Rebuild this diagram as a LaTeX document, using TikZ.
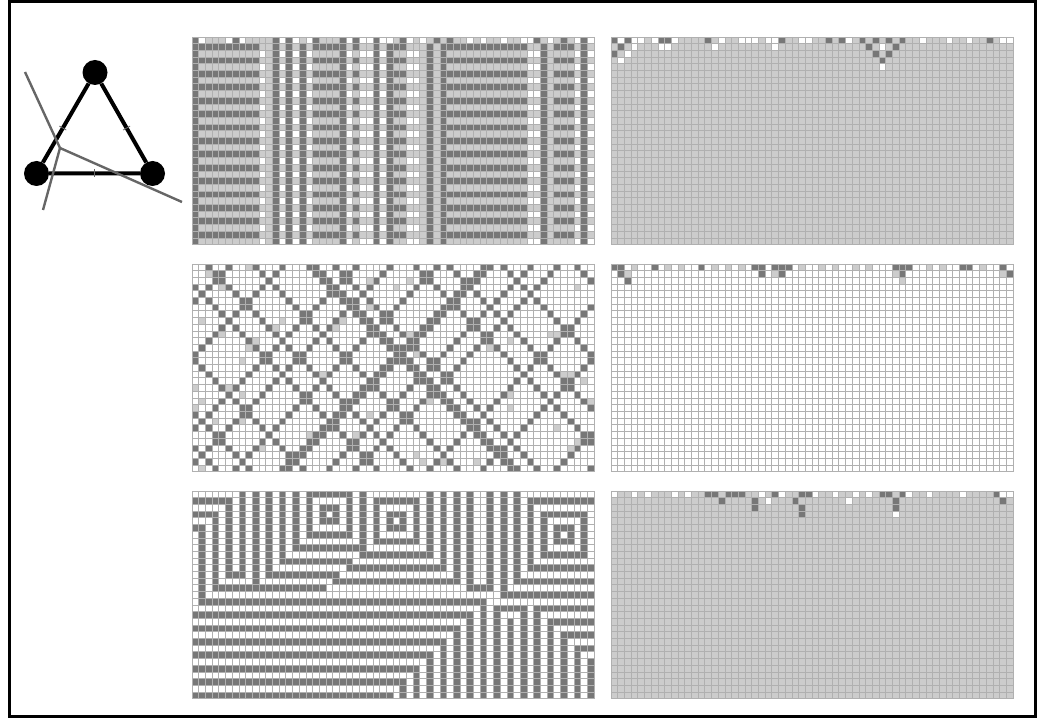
\documentclass[tikz,border=0pt]{standalone}
\usetikzlibrary{calc}
\definecolor{cadark}{HTML}{777777}
\definecolor{calight}{HTML}{CCCCCC}
\definecolor{cagrid}{HTML}{B0B0B0}
\definecolor{cutgray}{HTML}{666666}

\newcommand{\cellsz}{6.7}
\newcommand{\cacell}[3]{\fill[#3] (#1*\cellsz,#2*\cellsz) rectangle ++(\cellsz,\cellsz);}
\newcommand{\drawgrid}{%
  \foreach \k in {0,...,60} {\draw[gridline] (\k*\cellsz,0) -- (\k*\cellsz,31*\cellsz);}
  \foreach \k in {0,...,31} {\draw[gridline] (0,\k*\cellsz) -- (60*\cellsz,\k*\cellsz);}
}

\begin{document}
\begin{tikzpicture}[x=1pt, y=-1pt,
    gridline/.style={cagrid, line width=0.8pt},
    vertex/.style={circle, fill=black, inner sep=0pt, minimum size=25pt},
    triedge/.style={line width=4pt},
    cut/.style={cutgray, line width=2.4pt},
    tickmark/.style={cutgray, line width=0.8pt}
]
\useasboundingbox (0,0) rectangle (1042,719);

% Outer frame
\draw[line width=3pt] (9.5,1.5) rectangle (1035.5,716.5);

% ---------------------------------------------------------
% Triangle icon
% ---------------------------------------------------------
\node[vertex] (top)   at (95,72.5) {};
\node[vertex] (left)  at (36.5,173.5) {};
\node[vertex] (right) at (152.5,173.5) {};
\draw[triedge] (top) -- (left) -- (right) -- (top);

% tick marks on the edges
\foreach \p/\q/\s in {top/left/0.55, top/right/0.55, left/right/0.5} {
  \draw[tickmark] ($(\p)!\s!(\q)!4pt!90:(\q)$) -- ($(\p)!\s!(\q)!-4pt!90:(\q)$);
}

% cut lines
\coordinate (hub) at (60,148);
\coordinate (cutA) at (25,72);
\coordinate (cutB) at (182,202);
\coordinate (cutC) at (43,210);
\draw[cut] (cutA) -- (hub) -- (cutB);
\draw[cut] (hub) -- (cutC);

% ---------------------------------------------------------
% Panel 1 (top left): striped columns
% ---------------------------------------------------------
\begin{scope}[shift={(192,37)}]
\fill[calight] (0,0) rectangle (60*\cellsz,31*\cellsz);
\foreach \t [count=\c from 0] in {D,A,A,A,A,A,A,A,A,A,W,L,D,W,D,W,D,W,A,A,A,A,D,W,A,W,W,D,W,D,
                                 A,A,W,W,L,D,L,D,A,A,A,A,A,A,A,A,A,A,A,A,W,W,D,L,A,A,A,W,D,W} {
  \if A\t \foreach \r in {1,3,...,29} {\cacell{\c}{\r}{cadark}}\fi
  \if W\t \foreach \r in {2,4,...,30} {\cacell{\c}{\r}{white}}\fi
  \if D\t \fill[cadark] (\c*\cellsz,\cellsz) rectangle ++(\cellsz,30*\cellsz);\fi
}
% first row
\foreach \t [count=\c from 0] in {d,w,l,l,l,w,d,w,l,l,l,l,d,w,d,w,l,w,d,l,l,l,d,w,d,w,w,d,w,w,
                                 l,d,w,l,w,l,d,l,d,l,l,w,l,w,l,l,w,l,l,w,w,d,l,w,l,d,l,w,d,w} {
  \if d\t \cacell{\c}{0}{cadark}\fi
  \if w\t \cacell{\c}{0}{white}\fi
}
\drawgrid
\end{scope}

% ---------------------------------------------------------
% Panel 2 (top right): uniform light
% ---------------------------------------------------------
\begin{scope}[shift={(611,37)}]
\fill[calight] (0,0) rectangle (60*\cellsz,31*\cellsz);
\foreach \i/\j in {0/0,2/0,7/0,8/0,14/0,25/0,32/0,34/0,37/0,39/0,41/0,43/0,56/0,
                   1/1,38/1,42/1,0/2,39/2,41/2,40/3} {\cacell{\i}{\j}{cadark}}
\foreach \i/\j in {1/0,3/0,4/0,6/0,9/0,16/0,19/0,20/0,21/0,23/0,24/0,28/0,29/0,35/0,46/0,50/0,53/0,58/0,59/0,
                   3/1,7/1,8/1,15/1,24/1,40/1,2/2,1/3,40/4} {\cacell{\i}{\j}{white}}
\drawgrid
\end{scope}

% ---------------------------------------------------------
% Panel 3 (middle left): crossing diagonals
% ---------------------------------------------------------
\begin{scope}[shift={(192,264)}]
\fill[white] (0,0) rectangle (60*\cellsz,31*\cellsz);
\pgfmathsetseed{11}
\foreach \k in {1,...,80} {
  \pgfmathtruncatemacro{\ri}{random(0,59)}
  \pgfmathtruncatemacro{\rj}{random(0,30)}
  \cacell{\ri}{\rj}{calight}
}
\foreach \a in {2,9,17,18,21,33,38,46,57} {
  \foreach \r in {0,...,30} {
    \pgfmathtruncatemacro{\cc}{mod(\a+\r,60)}
    \cacell{\cc}{\r}{cadark}
  }
}
\foreach \b in {5,13,24,29,36,43,44,50,54} {
  \foreach \r in {0,...,30} {
    \pgfmathtruncatemacro{\cc}{mod(\b-\r+60,60)}
    \cacell{\cc}{\r}{cadark}
  }
}
\drawgrid
\end{scope}

% ---------------------------------------------------------
% Panel 4 (middle right): uniform white
% ---------------------------------------------------------
\begin{scope}[shift={(611,264)}]
\fill[white] (0,0) rectangle (60*\cellsz,31*\cellsz);
\foreach \i/\j in {0/0,1/0,6/0,13/0,21/0,22/0,24/0,25/0,26/0,42/0,43/0,44/0,52/0,53/0,58/0,
                   1/1,22/1,25/1,43/1,59/1,2/2} {\cacell{\i}{\j}{cadark}}
\foreach \i/\j in {3/0,8/0,10/0,15/0,17/0,19/0,28/0,31/0,33/0,36/0,38/0,47/0,49/0,55/0,
                   2/1,24/1,42/1,58/1,43/2} {\cacell{\i}{\j}{calight}}
\drawgrid
\end{scope}

% ---------------------------------------------------------
% Panel 5 (bottom left): nested stripes
% ---------------------------------------------------------
\begin{scope}[shift={(192,491)}]
\fill[white] (0,0) rectangle (60*\cellsz,31*\cellsz);
\foreach \i in {0,...,59} {
  \foreach \j in {0,...,30} {
    \pgfmathtruncatemacro{\f}{min(max(abs(\i-20),abs(\j-3)), max(abs(\i-30),abs(\j-4)),
                                  max(abs(\i+8),abs(\j-14)), max(abs(\i-14),abs(\j-45))-20,
                                  max(abs(\i-55),abs(\j-6)), max(abs(\i-64),abs(\j-30))-4)}
    \ifodd\f\relax \cacell{\i}{\j}{cadark}\fi
  }
}
\drawgrid
\end{scope}

% ---------------------------------------------------------
% Panel 6 (bottom right): uniform light
% ---------------------------------------------------------
\begin{scope}[shift={(611,491)}]
\fill[calight] (0,0) rectangle (60*\cellsz,31*\cellsz);
\foreach \i/\j in {14/0,15/0,17/0,18/0,19/0,24/0,28/0,29/0,40/0,41/0,43/0,57/0,
                   16/1,21/1,27/1,42/1,58/1,21/2,28/2,42/2,28/3} {\cacell{\i}{\j}{cadark}}
\foreach \i/\j in {0/0,3/0,5/0,9/0,11/0,22/0,25/0,30/0,33/0,36/0,38/0,44/0,47/0,52/0,58/0,59/0,
                   23/1,35/1,42/3} {\cacell{\i}{\j}{white}}
\drawgrid
\end{scope}

\end{tikzpicture}
\end{document}
